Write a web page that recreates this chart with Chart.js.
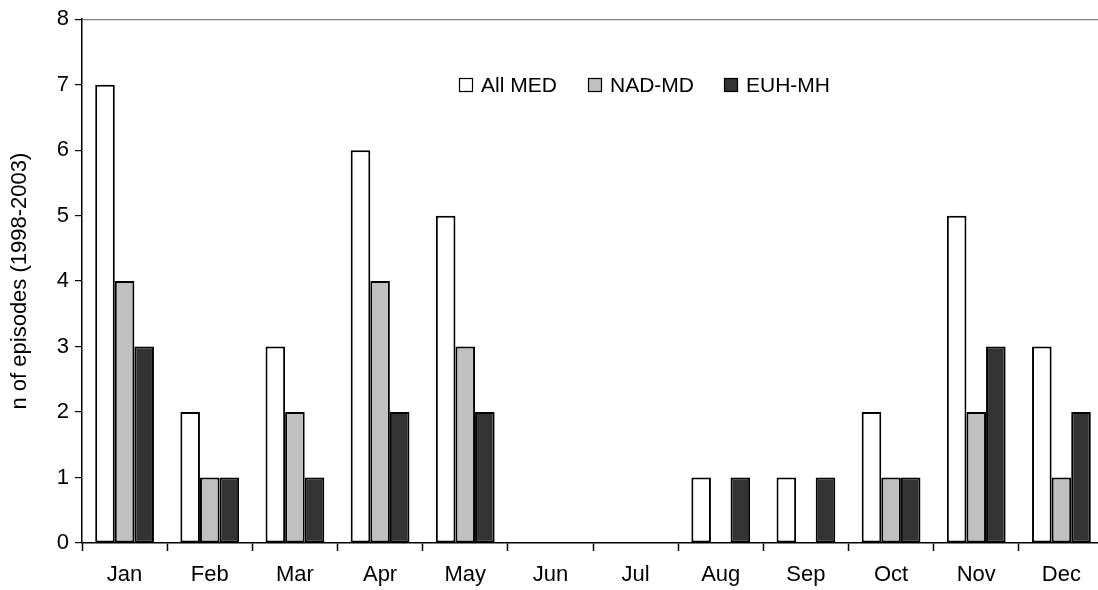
<!DOCTYPE html>
<html lang="en">
<head>
    <meta charset="UTF-8">
    <title>Episodes per month</title>
    <style>
        body {
            margin: 0;
            background-color: white;
            overflow: hidden;
        }
        #wrap {
            position: absolute;
            left: 0;
            top: 0;
            width: 1106px;
            height: 590px;
        }
    </style>
    <script src="https://cdn.jsdelivr.net/npm/chart.js"></script>
</head>
<body>
    <div id="wrap"><canvas id="myChart"></canvas></div>

    <script>
        const months = ['Jan', 'Feb', 'Mar', 'Apr', 'May', 'Jun', 'Jul', 'Aug', 'Sep', 'Oct', 'Nov', 'Dec'];
        const allMed = [7, 2, 3, 6, 5, 0, 0, 1, 1, 2, 5, 3];
        const nadMd = [4, 1, 2, 4, 3, 0, 0, 0, 0, 1, 2, 1];
        const euhMh = [3, 1, 1, 2, 2, 0, 0, 1, 1, 1, 3, 2];
        const seriesNames = ['All MED', 'NAD-MD', 'EUH-MH'];
        const seriesColors = ['#ffffff', '#c0c0c0', '#333333'];

        const fontFamily = '"Liberation Sans", Arial, sans-serif';

        // legend drawn by hand inside the plot, like the original
        const legendPlugin = {
            id: 'innerLegend',
            afterDraw(chart) {
                const c = chart.ctx;
                const boxX = [459, 588, 724];
                const y = 78;
                c.save();
                c.font = '21px ' + fontFamily;
                c.textBaseline = 'middle';
                chart.data.datasets.forEach((ds, i) => {
                    c.fillStyle = ds.backgroundColor;
                    c.fillRect(boxX[i], y, 14, 14);
                    c.strokeStyle = '#000';
                    c.lineWidth = 1.2;
                    c.strokeRect(boxX[i] + 0.5, y + 0.5, 13, 13);
                    c.fillStyle = '#000';
                    c.fillText(ds.label, boxX[i] + 22, y + 8);
                });
                c.restore();
            }
        };

        const ctx = document.getElementById('myChart').getContext('2d');
        const myChart = new Chart(ctx, {
            type: 'bar',
            data: {
                labels: months,
                datasets: [allMed, nadMd, euhMh].map((vals, i) => ({
                    label: seriesNames[i],
                    data: vals,
                    backgroundColor: seriesColors[i],
                    borderColor: '#000000',
                    borderWidth: 2,
                    borderSkipped: false,
                    categoryPercentage: 0.69,
                    barPercentage: 1.0
                }))
            },
            options: {
                responsive: true,
                maintainAspectRatio: false,
                animation: false,
                layout: {
                    padding: { left: 0, top: 19, right: 2, bottom: 0 }
                },
                plugins: {
                    legend: { display: false },
                    tooltip: { enabled: false }
                },
                scales: {
                    x: {
                        offset: true,
                        grid: {
                            offset: true,
                            drawOnChartArea: false,
                            drawTicks: true,
                            tickLength: 8,
                            tickColor: '#000',
                            tickWidth: 1.5
                        },
                        border: { color: '#000', width: 1.5 },
                        ticks: {
                            color: '#000',
                            padding: 11,
                            maxRotation: 0,
                            font: { family: fontFamily, size: 22 }
                        },
                        afterFit: s => { s.height = 47; }
                    },
                    y: {
                        min: 0,
                        max: 8,
                        grid: {
                            color: c => (c.tick && c.tick.value === 8) ? '#808080' : 'rgba(0,0,0,0)',
                            lineWidth: 1.2,
                            tickColor: '#000',
                            tickLength: 7,
                            tickWidth: 1.2
                        },
                        border: { color: '#000', width: 1.5 },
                        ticks: {
                            stepSize: 1,
                            color: '#000',
                            padding: 6,
                            font: { family: fontFamily, size: 22 }
                        },
                        title: {
                            display: true,
                            text: 'n of episodes (1998-2003)',
                            color: '#000',
                            padding: { top: 7, bottom: 0 },
                            font: { family: fontFamily, size: 22 }
                        },
                        afterFit: s => { s.width = 82; }
                    }
                }
            },
            plugins: [legendPlugin]
        });
    </script>
</body>
</html>
